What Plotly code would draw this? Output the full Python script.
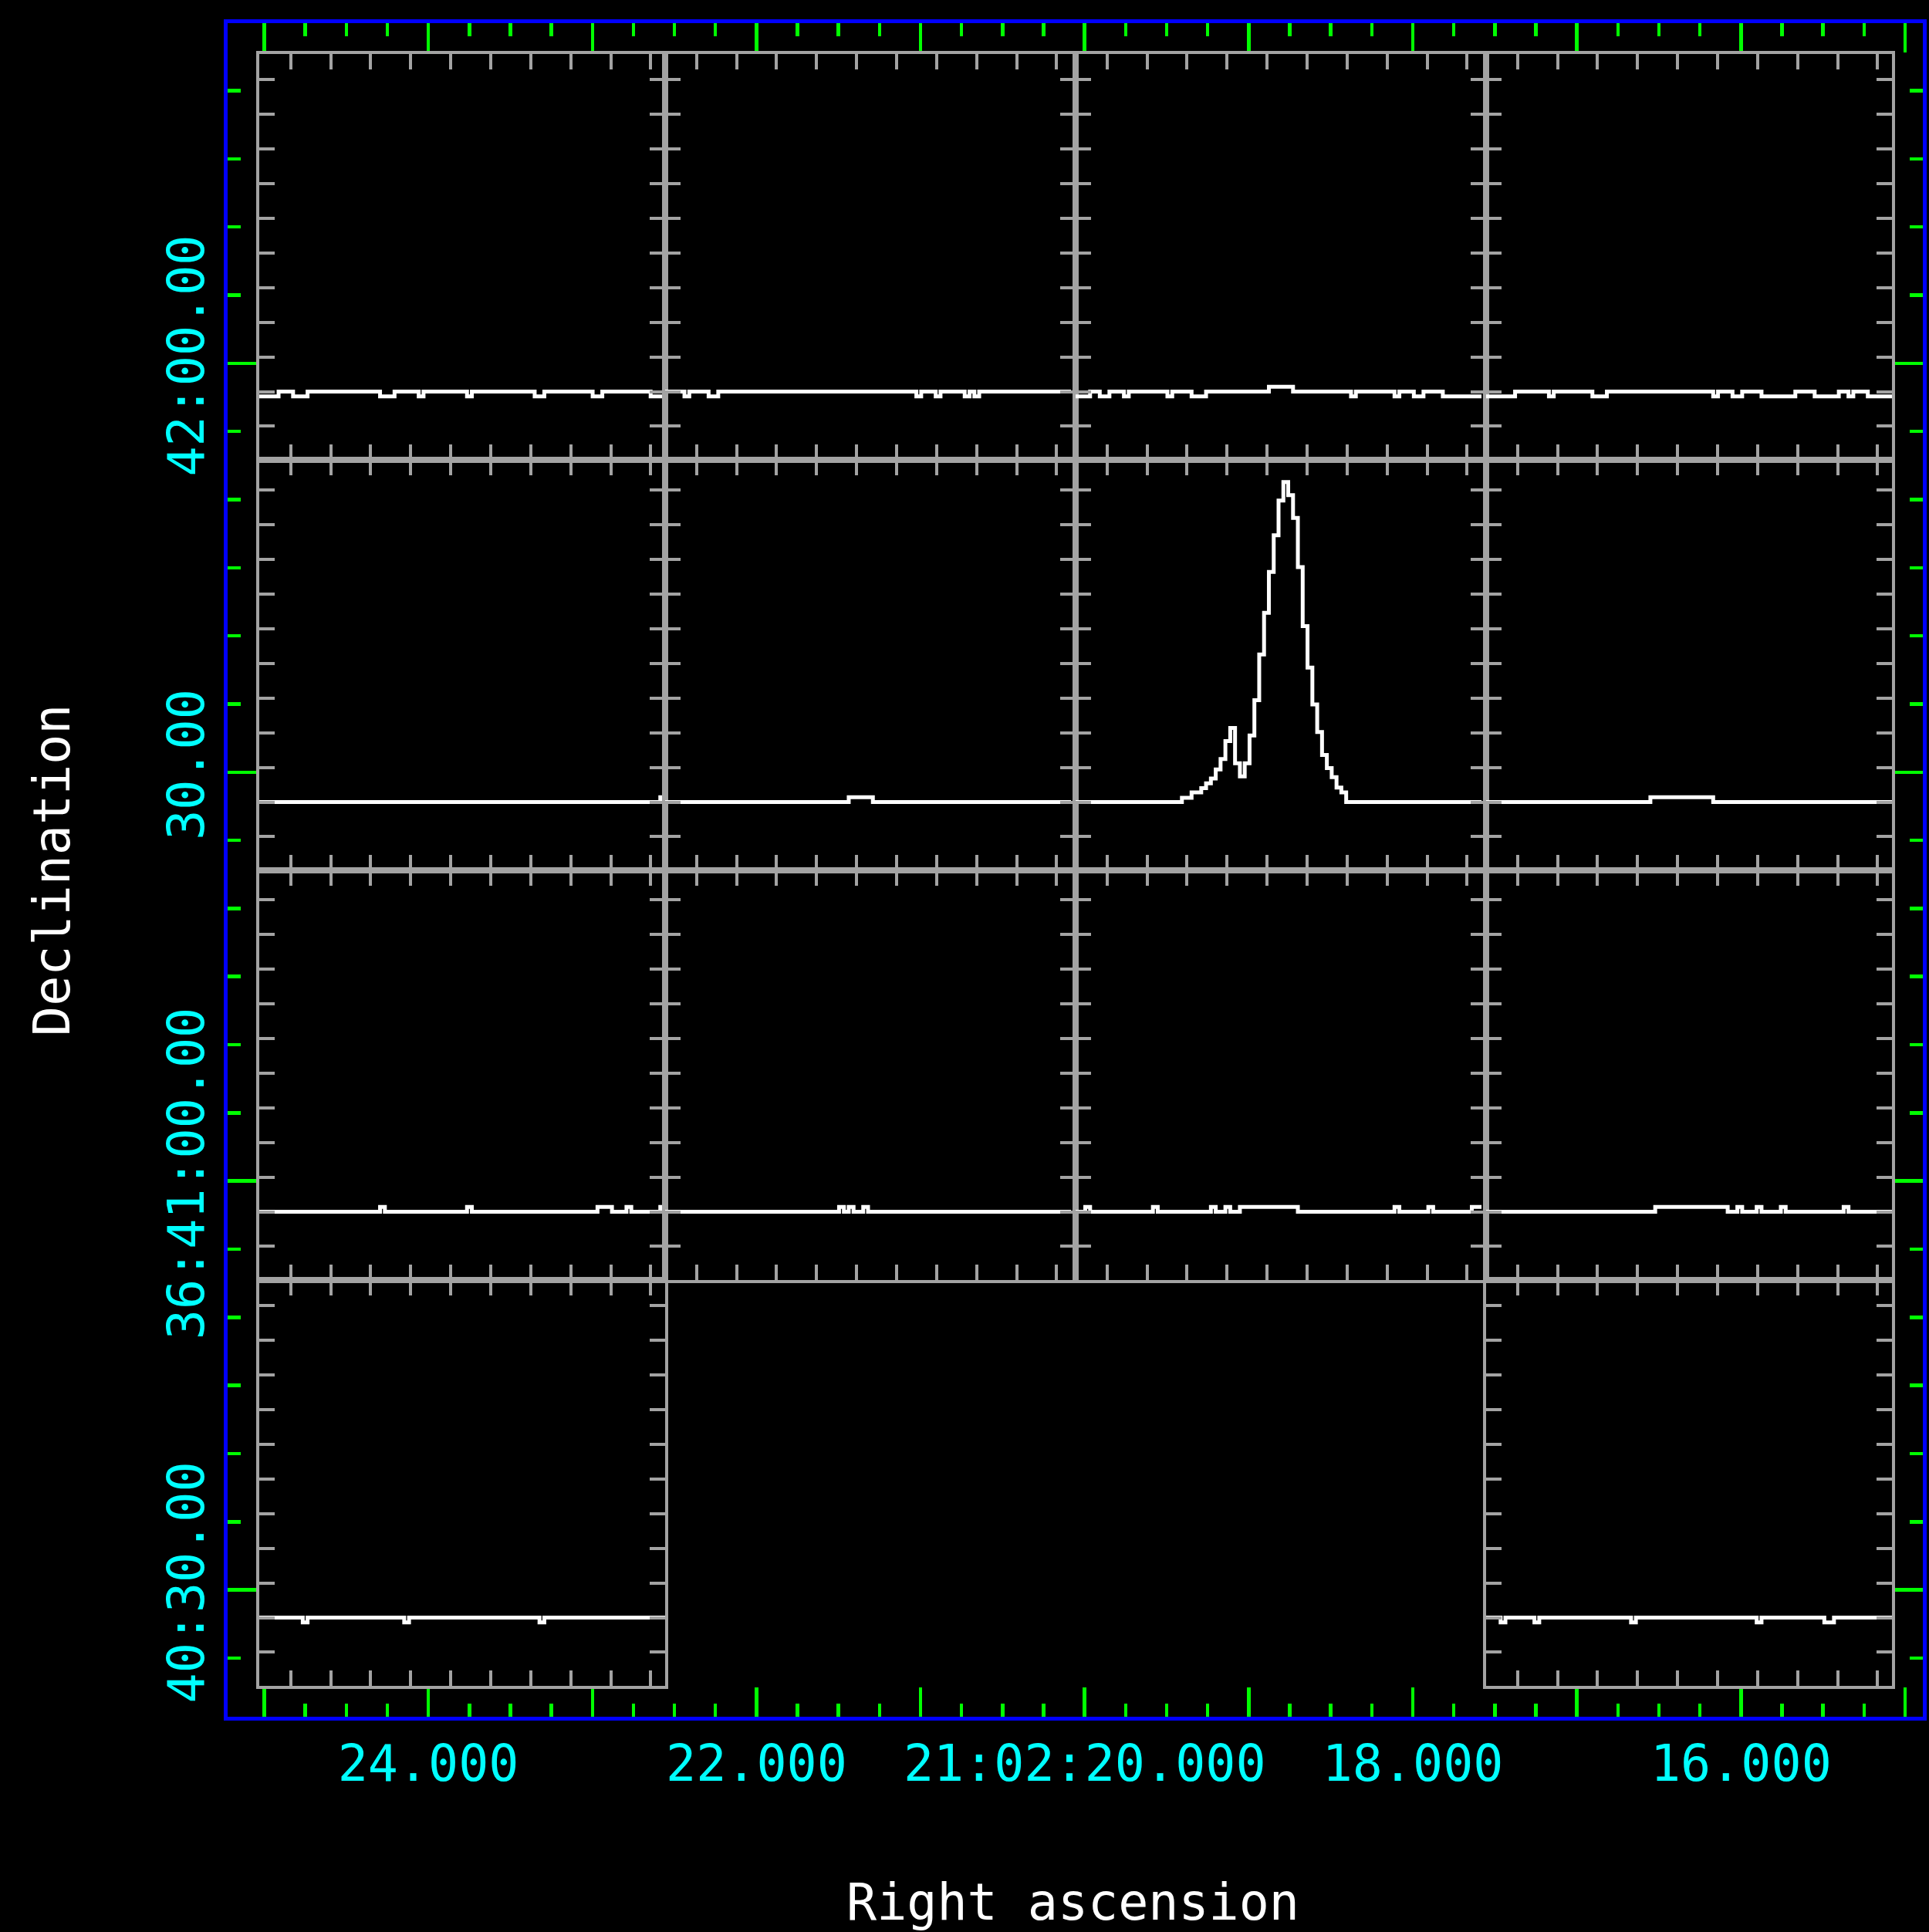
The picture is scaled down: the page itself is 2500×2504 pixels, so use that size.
import numpy as np
import plotly.graph_objects as go

# ---------------- outer celestial axes ----------------
# Right ascension: seconds of 21h02m (decreasing to the right)
ra_major = [25, 24, 23, 22, 21, 20, 19, 18, 17, 16, 15]
ra_labels = ["", "24.000", "", "22.000", "", "21:02:20.000", "", "18.000", "", "16.000", ""]
ra_range = [25.223, 14.892]
# Declination: arcsec past +36:40:00
dec_major = [30, 60, 90, 120]
dec_labels = ["40:30.00", "36:41:00.00", "30.00", "42:00.00"]
dec_range = [20.70, 144.95]

# ---------------- spectra (one per spatial cell) ----------------
vel_start = -23.935      # km/s, left edge of each spectrum
vel_step = 0.60397       # km/s per channel
n_chan = 84

spec_r1c1 = [-.07, -.07, -.07, -.07, 0, 0, 0, -.07, -.07, -.07, 0, 0,
             0, 0, 0, 0, 0, 0, 0, 0, 0, 0, 0, 0,
             0, -.07, -.07, -.07, 0, 0, 0, 0, 0, -.07, 0, 0,
             0, 0, 0, 0, 0, 0, 0, -.07, 0, 0, 0, 0,
             0, 0, 0, 0, 0, 0, 0, 0, 0, -.07, -.07, 0,
             0, 0, 0, 0, 0, 0, 0, 0, 0, -.07, -.07, 0,
             0, 0, 0, 0, 0, 0, 0, 0, 0, -.07, -.07, -.07]
spec_r1c2 = [0, 0, 0, 0, -.07, 0, 0, 0, 0, -.07, -.07, 0,
             0, 0, 0, 0, 0, 0, 0, 0, 0, 0, 0, 0,
             0, 0, 0, 0, 0, 0, 0, 0, 0, 0, 0, 0,
             0, 0, 0, 0, 0, 0, 0, 0, 0, 0, 0, 0,
             0, 0, 0, 0, -.07, 0, 0, 0, -.07, 0, 0, 0,
             0, 0, -.07, 0, -.07, 0, 0, 0, 0, 0, 0, 0,
             0, 0, 0, 0, 0, 0, 0, 0, 0, 0, 0, 0]
spec_r1c3 = [-.07, -.07, -.07, 0, 0, -.07, -.07, 0, 0, 0, -.07, 0,
             0, 0, 0, 0, 0, 0, 0, -.07, 0, 0, 0, 0,
             -.07, -.07, -.07, 0, 0, 0, 0, 0, 0, 0, 0, 0,
             0, 0, 0, 0, .07, .07, .07, .07, .07, 0, 0, 0,
             0, 0, 0, 0, 0, 0, 0, 0, 0, -.07, 0, 0,
             0, 0, 0, 0, 0, 0, -.07, 0, 0, 0, -.07, -.07,
             0, 0, 0, 0, -.07, -.07, -.07, -.07, -.07, -.07, -.07, -.07]
spec_r1c4 = [-.07, -.07, -.07, -.07, -.07, -.07, 0, 0, 0, 0, 0, 0,
             0, -.07, 0, 0, 0, 0, 0, 0, 0, 0, -.07, -.07,
             -.07, 0, 0, 0, 0, 0, 0, 0, 0, 0, 0, 0,
             0, 0, 0, 0, 0, 0, 0, 0, 0, 0, 0, -.07,
             0, 0, 0, -.07, -.07, 0, 0, 0, 0, -.07, -.07, -.07,
             -.07, -.07, -.07, -.07, 0, 0, 0, 0, -.07, -.07, -.07, -.07,
             -.07, 0, 0, -.07, 0, 0, 0, -.07, -.07, -.07, -.07, -.07]

spec_r2c1 = [0, 0, 0, 0, 0, 0, 0, 0, 0, 0, 0, 0,
             0, 0, 0, 0, 0, 0, 0, 0, 0, 0, 0, 0,
             0, 0, 0, 0, 0, 0, 0, 0, 0, 0, 0, 0,
             0, 0, 0, 0, 0, 0, 0, 0, 0, 0, 0, 0,
             0, 0, 0, 0, 0, 0, 0, 0, 0, 0, 0, 0,
             0, 0, 0, 0, 0, 0, 0, 0, 0, 0, 0, 0,
             0, 0, 0, 0, 0, 0, 0, 0, 0, 0, 0, .07]
spec_r2c2 = [0, 0, 0, 0, 0, 0, 0, 0, 0, 0, 0, 0,
             0, 0, 0, 0, 0, 0, 0, 0, 0, 0, 0, 0,
             0, 0, 0, 0, 0, 0, 0, 0, 0, 0, 0, 0,
             0, 0, .07, .07, .07, .07, .07, 0, 0, 0, 0, 0,
             0, 0, 0, 0, 0, 0, 0, 0, 0, 0, 0, 0,
             0, 0, 0, 0, 0, 0, 0, 0, 0, 0, 0, 0,
             0, 0, 0, 0, 0, 0, 0, 0, 0, 0, 0, 0]
spec_r2c3 = [0, 0, 0, 0, 0, 0, 0, 0, 0, 0, 0, 0,
             0, 0, 0, 0, 0, 0, 0, 0, 0, 0, .06, .06,
             .14, .14, .20, .27, .34, .47, .62, .88, 1.07, .56, .37, .56,
             .96, 1.47, 2.13, 2.73, 3.32, 3.85, 4.35, 4.62, 4.43, 4.10, 3.39, 2.54,
             1.94, 1.41, 1.01, .68, .49, .36, .21, .14, 0, 0, 0, 0,
             0, 0, 0, 0, 0, 0, 0, 0, 0, 0, 0, 0,
             0, 0, 0, 0, 0, 0, 0, 0, 0, 0, 0, 0]
spec_r2c4 = [0, 0, 0, 0, 0, 0, 0, 0, 0, 0, 0, 0,
             0, 0, 0, 0, 0, 0, 0, 0, 0, 0, 0, 0,
             0, 0, 0, 0, 0, 0, 0, 0, 0, 0, .07, .07,
             .07, .07, .07, .07, .07, .07, .07, .07, .07, .07, .07, 0,
             0, 0, 0, 0, 0, 0, 0, 0, 0, 0, 0, 0,
             0, 0, 0, 0, 0, 0, 0, 0, 0, 0, 0, 0,
             0, 0, 0, 0, 0, 0, 0, 0, 0, 0, 0, 0]

spec_r3c1 = [0, 0, 0, 0, 0, 0, 0, 0, 0, 0, 0, 0,
             0, 0, 0, 0, 0, 0, 0, 0, 0, 0, 0, 0,
             0, .07, 0, 0, 0, 0, 0, 0, 0, 0, 0, 0,
             0, 0, 0, 0, 0, 0, 0, .07, 0, 0, 0, 0,
             0, 0, 0, 0, 0, 0, 0, 0, 0, 0, 0, 0,
             0, 0, 0, 0, 0, 0, 0, 0, 0, 0, .07, .07,
             .07, 0, 0, 0, .07, 0, 0, 0, 0, 0, 0, .07]
spec_r3c2 = [0, 0, 0, 0, 0, 0, 0, 0, 0, 0, 0, 0,
             0, 0, 0, 0, 0, 0, 0, 0, 0, 0, 0, 0,
             0, 0, 0, 0, 0, 0, 0, 0, 0, 0, 0, 0,
             .07, 0, .07, 0, 0, .07, 0, 0, 0, 0, 0, 0,
             0, 0, 0, 0, 0, 0, 0, 0, 0, 0, 0, 0,
             0, 0, 0, 0, 0, 0, 0, 0, 0, 0, 0, 0,
             0, 0, 0, 0, 0, 0, 0, 0, 0, 0, 0, 0]
spec_r3c3 = [0, 0, .07, 0, 0, 0, 0, 0, 0, 0, 0, 0,
             0, 0, 0, 0, .07, 0, 0, 0, 0, 0, 0, 0,
             0, 0, 0, 0, .07, 0, 0, .07, 0, 0, .07, .07,
             .07, .07, .07, .07, .07, .07, .07, .07, .07, .07, 0, 0,
             0, 0, 0, 0, 0, 0, 0, 0, 0, 0, 0, 0,
             0, 0, 0, 0, 0, 0, .07, 0, 0, 0, 0, 0,
             0, .07, 0, 0, 0, 0, 0, 0, 0, 0, .07, .07]
spec_r3c4 = [0, 0, 0, 0, 0, 0, 0, 0, 0, 0, 0, 0,
             0, 0, 0, 0, 0, 0, 0, 0, 0, 0, 0, 0,
             0, 0, 0, 0, 0, 0, 0, 0, 0, 0, 0, .07,
             .07, .07, .07, .07, .07, .07, .07, .07, .07, .07, .07, .07,
             .07, .07, 0, 0, .07, 0, 0, 0, .07, 0, 0, 0,
             0, .07, 0, 0, 0, 0, 0, 0, 0, 0, 0, 0,
             0, 0, .07, 0, 0, 0, 0, 0, 0, 0, 0, 0]

spec_r4c1 = [0, 0, 0, 0, 0, 0, 0, 0, 0, -.07, 0, 0,
             0, 0, 0, 0, 0, 0, 0, 0, 0, 0, 0, 0,
             0, 0, 0, 0, 0, 0, -.07, 0, 0, 0, 0, 0,
             0, 0, 0, 0, 0, 0, 0, 0, 0, 0, 0, 0,
             0, 0, 0, 0, 0, 0, 0, 0, 0, 0, -.07, 0,
             0, 0, 0, 0, 0, 0, 0, 0, 0, 0, 0, 0,
             0, 0, 0, 0, 0, 0, 0, 0, 0, 0, 0, 0]
spec_r4c4 = [0, 0, 0, -.07, 0, 0, 0, 0, 0, 0, -.07, 0,
             0, 0, 0, 0, 0, 0, 0, 0, 0, 0, 0, 0,
             0, 0, 0, 0, 0, 0, -.07, 0, 0, 0, 0, 0,
             0, 0, 0, 0, 0, 0, 0, 0, 0, 0, 0, 0,
             0, 0, 0, 0, 0, 0, 0, 0, -.07, 0, 0, 0,
             0, 0, 0, 0, 0, 0, 0, 0, 0, 0, -.07, -.07,
             0, 0, 0, 0, 0, 0, 0, 0, 0, 0, 0, 0]

# grid of cells: (row, col) -> spectrum   (row 0 = top)
cells = {
    (0, 0): spec_r1c1, (0, 1): spec_r1c2, (0, 2): spec_r1c3, (0, 3): spec_r1c4,
    (1, 0): spec_r2c1, (1, 1): spec_r2c2, (1, 2): spec_r2c3, (1, 3): spec_r2c4,
    (2, 0): spec_r3c1, (2, 1): spec_r3c2, (2, 2): spec_r3c3, (2, 3): spec_r3c4,
    (3, 0): spec_r4c1, (3, 3): spec_r4c4,
}

# ---------------- styling / layout constants ----------------
W, H = 2500, 2504
BLUE, GREEN, CYAN, GRAY, WHITE = "#0000ff", "#00ff00", "#00ffff", "#a3a3a3", "#ffffff"
FONT = "DejaVu Sans Mono"
FS = 65

frame_px = dict(left=295, right=2492, top=30, bottom=2225)
col_edges_px = [336, 862, 1394, 1926, 2452]
row_edges_px = [70, 596, 1128, 1659, 2185]
px_per_vel = 10.368      # pixels per km/s in every cell
px_per_val = 89.8        # pixels per data unit
val_bottom = -0.9855     # data value at bottom of each cell

fig = go.Figure()
layout = dict(
    width=W, height=H, margin=dict(l=0, r=0, t=0, b=0),
    paper_bgcolor="black", plot_bgcolor="rgba(0,0,0,0)", showlegend=False,
)

layout["xaxis"] = dict(
    domain=[frame_px["left"] / W, frame_px["right"] / W],
    range=ra_range, tickmode="array", tickvals=ra_major, ticktext=ra_labels,
    ticks="inside", ticklen=38, tickwidth=4.5, tickcolor=GREEN,
    minor=dict(tickmode="linear", tick0=0, dtick=0.25, ticks="inside",
               ticklen=17, tickwidth=4.5, tickcolor=GREEN),
    showline=True, linecolor=BLUE, linewidth=5, mirror="ticks",
    showgrid=False, zeroline=False,
    tickfont=dict(family=FONT, size=FS, color=CYAN),
)
layout["yaxis"] = dict(
    domain=[(H - frame_px["bottom"]) / H, (H - frame_px["top"]) / H],
    range=dec_range, tickmode="array", tickvals=dec_major, ticktext=dec_labels,
    ticks="inside", ticklen=38, tickwidth=4.5, tickcolor=GREEN,
    minor=dict(tickmode="linear", tick0=0, dtick=5, ticks="inside",
               ticklen=17, tickwidth=4.5, tickcolor=GREEN),
    showline=True, linecolor=BLUE, linewidth=5, mirror="ticks",
    showgrid=False, zeroline=False, tickangle=-90,
    tickfont=dict(family=FONT, size=FS, color=CYAN),
)
fig.add_trace(go.Scatter(x=[], y=[], xaxis="x", yaxis="y", hoverinfo="skip"))

vel_edges = vel_start + vel_step * np.arange(n_chan + 1)

k = 2
for (r, c), spec in cells.items():
    x0p, x1p = col_edges_px[c], col_edges_px[c + 1]
    y0p, y1p = row_edges_px[r], row_edges_px[r + 1]
    xr = [vel_start, vel_start + (x1p - x0p) / px_per_vel]
    yr = [val_bottom, val_bottom + (y1p - y0p) / px_per_val]
    ax = dict(showline=True, linecolor=GRAY, linewidth=4, mirror="ticks",
              ticks="inside", ticklen=20, tickwidth=4, tickcolor=GRAY,
              showticklabels=False, showgrid=False, zeroline=False)
    layout[f"xaxis{k}"] = dict(ax, domain=[x0p / W, x1p / W], range=xr,
                               tick0=0, dtick=5, anchor=f"y{k}")
    layout[f"yaxis{k}"] = dict(ax, domain=[(H - y1p) / H, (H - y0p) / H], range=yr,
                               tick0=0, dtick=0.5, anchor=f"x{k}")
    yvals = list(spec) + [spec[-1]]
    fig.add_trace(go.Scatter(x=vel_edges, y=yvals, mode="lines", line_shape="hv",
                             line=dict(color=WHITE, width=5),
                             xaxis=f"x{k}", yaxis=f"y{k}", hoverinfo="skip"))
    k += 1

layout["annotations"] = [
    dict(text="Declination", xref="paper", yref="paper", x=67 / W, y=(H - 1128) / H,
         textangle=-90, showarrow=False, xanchor="center", yanchor="middle",
         font=dict(family=FONT, size=FS, color=WHITE)),
    dict(text="Right ascension", xref="paper", yref="paper", x=1390 / W, y=(H - 2465) / H,
         showarrow=False, xanchor="center", yanchor="middle",
         font=dict(family=FONT, size=FS, color=WHITE)),
]
fig.update_layout(**layout)

page_js = ("document.body.style.margin='0';document.body.style.padding='0';"
           "document.body.style.background='black';"
           "document.documentElement.style.background='black';"
           "document.body.style.overflow='hidden';")
fig.write_html("out.html", post_script=page_js,
               config={"displayModeBar": False, "staticPlot": True})
